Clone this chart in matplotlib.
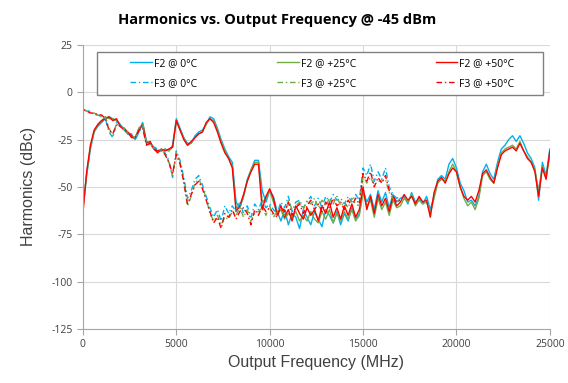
import numpy as np
import matplotlib
matplotlib.use('Agg')
import matplotlib.pyplot as plt
from matplotlib.patches import Rectangle

plt.rcParams['axes.unicode_minus'] = False

# sweep frequencies (MHz); first sample repeated at 0 MHz (start transient)
freq_f2 = [0] + list(range(0, 25001, 200))
freq_f3 = [0] + list(range(0, 17001, 200))

# F2 harmonic (dBc)
f2_0c = [-37,
         -60, -44, -30, -21, -18, -16, -14, -13, -14, -15,
         -17, -20, -22, -23, -25, -21, -16, -26, -27, -29,
         -31, -31, -30, -31, -28, -14, -19, -24, -27, -27,
         -23, -21, -20, -17, -13, -14, -19, -25, -30, -34,
         -37, -58, -61, -55, -46, -41, -36, -36, -52, -58,
         -52, -55, -63, -68, -62, -70, -64, -66, -72, -62,
         -66, -70, -63, -67, -71, -62, -65, -69, -63, -70,
         -64, -68, -61, -67, -64, -52, -58, -54, -62, -52,
         -58, -53, -61, -54, -58, -56, -55, -59, -53, -58,
         -56, -59, -55, -62, -55, -46, -44, -46, -38, -35,
         -40, -48, -52, -58, -57, -60, -55, -42, -38, -43,
         -46, -37, -30, -28, -25, -23, -26, -23, -27, -32,
         -35, -40, -57, -37, -44, -30]
f2_25c = [-39,
          -62, -43, -29, -21, -17, -15, -13, -14, -14, -15,
          -18, -19, -22, -23, -24, -19, -17, -26, -27, -30,
          -31, -31, -30, -31, -29, -15, -20, -24, -28, -27,
          -24, -22, -21, -17, -14, -15, -20, -26, -31, -35,
          -39, -61, -61, -55, -47, -41, -37, -37, -58, -56,
          -52, -58, -64, -62, -67, -64, -66, -63, -68, -65,
          -68, -63, -67, -69, -63, -67, -62, -69, -64, -68,
          -63, -67, -62, -68, -65, -53, -60, -57, -66, -56,
          -62, -58, -65, -57, -61, -60, -56, -58, -54, -60,
          -57, -59, -58, -64, -56, -48, -46, -47, -42, -38,
          -42, -50, -56, -60, -58, -62, -56, -44, -42, -46,
          -48, -39, -32, -30, -29, -28, -30, -26, -31, -34,
          -37, -41, -52, -39, -45, -33]
f2_50c = [-40,
          -64, -42, -28, -20, -17, -15, -14, -13, -15, -14,
          -18, -19, -21, -24, -24, -20, -17, -27, -26, -30,
          -32, -30, -31, -30, -29, -15, -20, -25, -28, -26,
          -24, -22, -21, -16, -14, -16, -21, -27, -32, -35,
          -40, -63, -60, -54, -47, -42, -38, -38, -62, -55,
          -51, -56, -65, -60, -66, -62, -68, -60, -64, -67,
          -61, -65, -62, -68, -60, -64, -58, -66, -61, -67,
          -60, -65, -59, -66, -62, -50, -62, -55, -64, -54,
          -60, -56, -63, -55, -60, -58, -54, -57, -55, -59,
          -55, -58, -57, -66, -53, -47, -45, -48, -43, -40,
          -42, -50, -55, -57, -55, -58, -52, -43, -41, -45,
          -48, -40, -33, -31, -30, -29, -31, -27, -31, -35,
          -37, -42, -55, -40, -46, -31]

# F3 harmonic (dBc)
f3_0c = [3,
         -9, -10, -10, -12, -12, -13, -14, -21, -24, -16,
         -18, -19, -22, -22, -25, -21, -18, -27, -28, -29,
         -30, -31, -32, -36, -45, -31, -36, -45, -56, -52,
         -46, -44, -49, -55, -61, -66, -62, -68, -60, -64,
         -60, -63, -58, -64, -60, -66, -59, -62, -57, -61,
         -59, -62, -64, -58, -61, -55, -63, -58, -57, -61,
         -58, -55, -60, -56, -61, -55, -58, -54, -57, -56,
         -59, -55, -58, -54, -57, -40, -44, -38, -47, -42,
         -46, -40, -50, -54, -56, -55]
f3_25c = [5,
          -9, -10, -11, -11, -12, -13, -13, -19, -23, -17,
          -18, -19, -21, -23, -24, -19, -16, -27, -27, -30,
          -31, -30, -32, -37, -44, -32, -37, -48, -60, -55,
          -48, -46, -50, -56, -64, -68, -65, -70, -66, -67,
          -63, -65, -61, -66, -62, -68, -64, -63, -61, -65,
          -60, -66, -63, -62, -65, -57, -62, -60, -58, -62,
          -57, -59, -56, -61, -57, -60, -56, -59, -55, -60,
          -58, -61, -56, -59, -60, -44, -48, -45, -49, -47,
          -47, -46, -53, -56, -57, -58]
f3_50c = [8,
          -9, -10, -11, -11, -12, -12, -14, -20, -22, -17,
          -18, -20, -21, -23, -24, -20, -19, -28, -27, -30,
          -31, -30, -33, -37, -43, -33, -38, -47, -59, -54,
          -49, -47, -51, -57, -63, -69, -66, -72, -64, -66,
          -62, -67, -63, -61, -64, -70, -62, -65, -60, -63,
          -61, -64, -66, -60, -63, -58, -65, -61, -59, -64,
          -60, -57, -62, -59, -63, -58, -61, -56, -60, -58,
          -62, -57, -60, -56, -59, -43, -47, -42, -50, -45,
          -48, -44, -52, -55, -58, -57]

x_ticks = [0, 5000, 10000, 15000, 20000, 25000]
y_ticks = [25, 0, -25, -50, -75, -100, -125]

BLUE, GREEN, RED = '#00B0F0', '#70AD47', '#FF0000'
DASHDOT = (0, (4, 2, 1, 2))

fig = plt.figure(figsize=(5.68, 3.83), dpi=100)
ax = fig.add_axes([0.146, 0.141, 0.822, 0.742])

ax.plot(freq_f2, f2_0c, color=BLUE, lw=1.0, label='F2 @ 0°C')
ax.plot(freq_f2, f2_25c, color=GREEN, lw=1.0, label='F2 @ +25°C')
ax.plot(freq_f2, f2_50c, color=RED, lw=1.0, label='F2 @ +50°C')
ax.plot(freq_f3, f3_0c, color=BLUE, lw=1.0, ls=DASHDOT, label='F3 @ 0°C')
ax.plot(freq_f3, f3_25c, color=GREEN, lw=1.0, ls=DASHDOT, label='F3 @ +25°C')
ax.plot(freq_f3, f3_50c, color=RED, lw=1.0, ls=DASHDOT, label='F3 @ +50°C')

ax.set_xlim(0, 25000)
ax.set_ylim(-125, 25)
ax.set_xticks(x_ticks)
ax.set_yticks(y_ticks)
ax.set_axisbelow(True)
ax.grid(True, color='#D9D9D9', lw=0.8)
for side in ['top', 'right']:
    ax.spines[side].set_visible(False)
for side in ['left', 'bottom']:
    ax.spines[side].set_color('#A6A6A6')
ax.tick_params(colors='#A6A6A6', length=4, width=0.8, labelcolor='#404040')
for lab in ax.get_xticklabels() + ax.get_yticklabels():
    lab.set_family('Open Sans')
    lab.set_fontsize(7.5)

ax.set_xlabel('Output Frequency (MHz)', family='Liberation Sans', fontsize=11.5, color='#404040')
ax.set_ylabel('Harmonics (dBc)', family='Liberation Sans', fontsize=11.5, color='#404040')
ax.xaxis.set_label_coords(0.5, -0.09)
ax.yaxis.set_label_coords(-0.1, 0.5)

fig.text(0.488, 0.948, 'Harmonics vs. Output Frequency @ -45 dBm', ha='center', va='center',
         family='Open Sans', fontweight='bold', fontsize=10.5)

# legend frame drawn separately, entries spread across it
ax.add_patch(Rectangle((0.030, 0.824), 0.955, 0.151, transform=ax.transAxes,
                       facecolor='white', edgecolor='#808080', lw=1.0, zorder=5))
handles, labels = ax.get_legend_handles_labels()
order = [0, 3, 1, 4, 2, 5]
leg = ax.legend([handles[i] for i in order], [labels[i] for i in order], ncol=3,
                loc='center', bbox_to_anchor=(0.1006, 0.838, 0.824, 0.123), mode='expand',
                frameon=False, borderpad=0, borderaxespad=0, handlelength=2.1,
                handletextpad=0.2, labelspacing=0.9, prop={'family': 'Open Sans', 'size': 7.5})
leg.set_zorder(6)

fig.savefig('out.png', dpi=100)
